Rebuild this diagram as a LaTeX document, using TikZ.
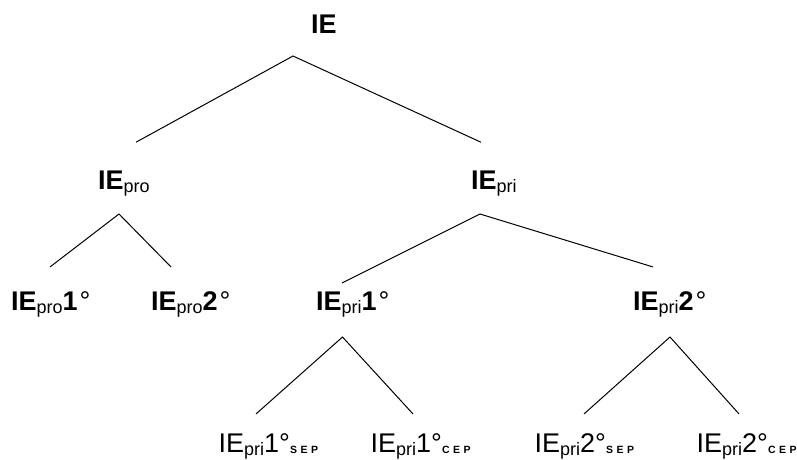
\documentclass[tikz,border=0pt]{standalone}
\usepackage{fontspec}
\setmainfont{Liberation Sans}
\usepackage{tikz}
\usetikzlibrary{calc}

\newcommand{\lowidx}[1]{\raisebox{-3pt}{\fontsize{18}{18}\selectfont\mdseries #1}}
\newcommand{\tagidx}[1]{\raisebox{-1pt}{\fontsize{10.5}{11}\selectfont\bfseries #1}}

\begin{document}
\begin{tikzpicture}[x=1pt, y=-1pt,
  termbold/.style={anchor=base west, inner sep=0pt, font=\fontsize{27}{30}\selectfont\bfseries},
  termplain/.style={anchor=base west, inner sep=0pt, font=\fontsize{27}{30}\selectfont},
  branch/.style={line width=1pt}]
\useasboundingbox (0,0) rectangle (797,459);
% Root
\node[termbold] (ie) at (311,33) {IE};
% Second level
\node[termbold] (pro) at (98,189) {IE\lowidx{pro}};
\node[termbold] (pri) at (471,189) {IE\lowidx{pri}};
% Third level
\node[termbold] (pro1) at (11,310) {IE\lowidx{pro}1\kern2pt\mdseries°};
\node[termbold] (pro2) at (151,310) {IE\lowidx{pro}2\kern2pt\mdseries°};
\node[termbold] (pri1) at (316,310) {IE\lowidx{pri}1\kern2pt\mdseries°};
\node[termbold] (pri2) at (633,310) {IE\lowidx{pri}2\kern2pt\mdseries°};
% Fourth level
\node[termplain] (pri1sep) at (218.5,452) {IE\lowidx{pri}1°\tagidx{S\kern3.5ptE\kern3.5ptP}};
\node[termplain] (pri1cep) at (370.5,452) {IE\lowidx{pri}1°\tagidx{C\kern3.5ptE\kern3.5ptP}};
\node[termplain] (pri2sep) at (534.5,452) {IE\lowidx{pri}2°\tagidx{S\kern3.5ptE\kern3.5ptP}};
\node[termplain] (pri2cep) at (696.5,452) {IE\lowidx{pri}2°\tagidx{C\kern3.5ptE\kern3.5ptP}};
% Branches
\draw[branch] ([shift={(38,-28)}]pro.north west) -- ([shift={(-18,23)}]ie.base west)
  -- ([shift={(10,-28)}]pri.north west);
\draw[branch] ([shift={(39,-24)}]pro1.north west) -- ([shift={(21,25)}]pro.base west)
  -- ([shift={(20,-24)}]pro2.north west);
\draw[branch] ([shift={(26,-8)}]pri1.north west) -- ([shift={(9,25)}]pri.base west)
  -- ([shift={(20,-24)}]pri2.north west);
\draw[branch] ([shift={(37.5,-19)}]pri1sep.north west) -- ([shift={(26.5,27)}]pri1.base west)
  -- ([shift={(42.5,-19)}]pri1cep.north west);
\draw[branch] ([shift={(49.5,-19)}]pri2sep.north west) -- ([shift={(37,27)}]pri2.base west)
  -- ([shift={(42.5,-19)}]pri2cep.north west);
\end{tikzpicture}
\end{document}
